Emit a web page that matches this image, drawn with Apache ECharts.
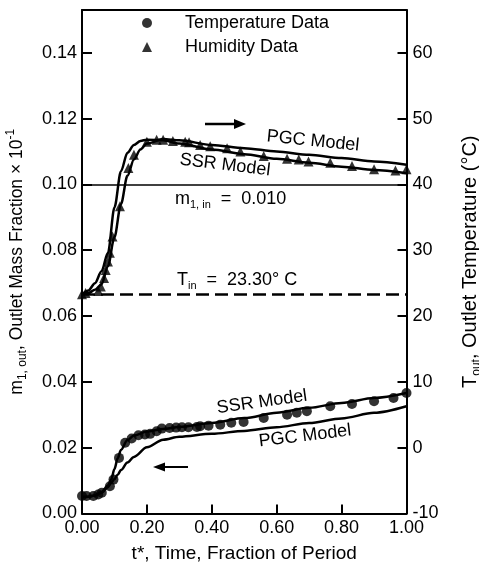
<!DOCTYPE html>
<html><head><meta charset="utf-8">
<script src="https://cdn.jsdelivr.net/npm/echarts/dist/echarts.min.js"></script>
<style>html,body{margin:0;padding:0;background:#fff}#c{width:479px;height:567px}</style>
</head><body><div id="c"></div>
<script>
// ---- data ----
const xTicks = [0, 0.2, 0.4, 0.6, 0.8, 1.0];
const inletHumidityLine = 0.10;   // m1,in (left axis units)
const inletTemperature = 23.3;    // T_in  (right axis, °C)

// upper model curves (right axis, °C)
const upperT = [0, 0.02, 0.04, 0.06, 0.08, 0.10, 0.12, 0.14, 0.16, 0.18, 0.20, 0.25, 0.30, 0.40, 0.50, 0.60, 0.70, 0.80, 0.90, 1.00];
const ssrUpper = [23.3, 23.9, 25.0, 26.8, 29.6, 36.5, 42.0, 44.8, 46.0, 46.6, 46.8, 46.7, 46.2, 45.3, 44.6, 43.9, 43.3, 42.7, 42.2, 41.7];
const pgcUpper = [23.3, 23.5, 24.0, 24.8, 27.6, 32.0, 37.0, 41.3, 43.8, 45.3, 46.2, 46.9, 46.7, 46.0, 45.5, 45.0, 44.5, 44.0, 43.5, 43.0];

// lower model curves (left axis, mass fraction x 10^-1)
const lowerT = [0, 0.02, 0.04, 0.06, 0.08, 0.09, 0.10, 0.11, 0.12, 0.14, 0.16, 0.20, 0.25, 0.30, 0.40, 0.50, 0.60, 0.70, 0.80, 0.90, 1.00];
const ssrLower = [0.0050, 0.0051, 0.0055, 0.0065, 0.0085, 0.0103, 0.0135, 0.0168, 0.0193, 0.0223, 0.0237, 0.0249, 0.0257, 0.0263, 0.0275, 0.0290, 0.0306, 0.0321, 0.0336, 0.0351, 0.0366];
const pgcLower = [0.0050, 0.0051, 0.0055, 0.0063, 0.0080, 0.0093, 0.0105, 0.0118, 0.0132, 0.0155, 0.0172, 0.0201, 0.0224, 0.0233, 0.0242, 0.0251, 0.0262, 0.0275, 0.0289, 0.0306, 0.0326];

// triangles (upper curve data)
const humidityT = [0.000, 0.011, 0.050, 0.058, 0.068, 0.073, 0.080, 0.086, 0.094, 0.117, 0.143, 0.160, 0.200, 0.230, 0.250, 0.280, 0.318, 0.330, 0.364, 0.395, 0.447, 0.488, 0.560, 0.632, 0.668, 0.698, 0.765, 0.832, 0.900, 0.966, 1.000];
const humidityV = [23.3, 23.5, 23.8, 24.5, 25.8, 27.0, 28.3, 29.6, 32.1, 36.7, 42.5, 44.5, 46.5, 46.8, 46.8, 46.6, 46.5, 46.4, 46.0, 45.8, 45.5, 45.0, 44.3, 43.9, 43.8, 43.5, 43.3, 42.8, 42.3, 42.1, 42.3];

// circles (lower curve data)
const temperatureT = [0.000, 0.014, 0.035, 0.050, 0.061, 0.086, 0.097, 0.114, 0.133, 0.153, 0.174, 0.194, 0.210, 0.230, 0.246, 0.270, 0.290, 0.308, 0.328, 0.354, 0.364, 0.390, 0.426, 0.460, 0.498, 0.560, 0.632, 0.662, 0.693, 0.765, 0.832, 0.900, 0.960, 1.000];
const temperatureV = [0.0053, 0.0053, 0.0053, 0.0058, 0.0063, 0.0083, 0.0103, 0.0169, 0.0215, 0.0228, 0.0238, 0.0240, 0.0242, 0.0250, 0.0258, 0.0260, 0.0261, 0.0262, 0.0262, 0.0263, 0.0265, 0.0267, 0.0270, 0.0276, 0.0278, 0.0290, 0.0300, 0.0306, 0.0311, 0.0326, 0.0333, 0.0341, 0.0351, 0.0366];

const leftMin = 0, leftMax = 0.153, leftInterval = 0.02;
const rightMin = -10, rightMax = 66.5, rightInterval = 10;

// ---- chart ----
const zip = (a, b) => a.map((v, i) => [v, b[i]]);
const FONT = 'Liberation Sans';
const K = '#000';
const chart = echarts.init(document.getElementById('c'), null, {renderer: 'canvas'});

const lineSeries = (name, x, y, axis, extra) => Object.assign({
  name, type: 'line', yAxisIndex: axis, data: zip(x, y), symbol: 'none',
  smooth: 0.3, smoothMonotone: 'x',
  lineStyle: {color: K, width: 2.5}, itemStyle: {color: K}, z: 3, silent: true
}, extra || {});

const sub = {fontSize: 12, fontFamily: FONT, verticalAlign: 'bottom', lineHeight: 24, fill: K, color: K};
const sup = {fontSize: 12, fontFamily: FONT, verticalAlign: 'top', lineHeight: 24, fill: K, color: K};

chart.setOption({
  animation: false,
  backgroundColor: '#fff',
  textStyle: {fontFamily: FONT, color: K},
  grid: {left: 82, right: 72.5, top: 10, bottom: 53.5, containLabel: false, outerBoundsMode: 'none'},
  legend: {
    data: ['Temperature Data', 'Humidity Data'],
    orient: 'vertical', left: 142, top: 13, padding: 0,
    itemWidth: 10, itemHeight: 10, itemGap: 4,
    textStyle: {fontFamily: FONT, fontSize: 18, color: K, lineHeight: 20, padding: [0, 0, 0, 28]},
    selectedMode: false
  },
  xAxis: [{
    type: 'value', min: 0, max: 1, interval: 0.2, position: 'bottom',
    axisLine: {show: true, onZero: false, lineStyle: {color: K, width: 2}},
    axisTick: {show: true, inside: true, length: 9, lineStyle: {color: K, width: 2}},
    axisLabel: {color: K, fontSize: 18, fontFamily: FONT, margin: 6, formatter: v => v.toFixed(2)},
    splitLine: {show: false},
    name: 't*, Time, Fraction of Period', nameLocation: 'middle', nameGap: 31, nameMoveOverlap: false,
    nameTextStyle: {fontSize: 19, fontFamily: FONT, color: K}
  }, {
    type: 'value', min: 0, max: 1, position: 'top',
    axisLine: {show: true, onZero: false, lineStyle: {color: K, width: 2}},
    axisTick: {show: false}, axisLabel: {show: false}, splitLine: {show: false}
  }],
  yAxis: [{
    type: 'value', min: leftMin, max: leftMax, interval: leftInterval, position: 'left',
    axisLine: {show: true, onZero: false, lineStyle: {color: K, width: 2}},
    axisTick: {show: true, inside: true, length: 10, lineStyle: {color: K, width: 2}},
    axisLabel: {color: K, fontSize: 18, fontFamily: FONT, margin: 5, showMaxLabel: false, formatter: v => v.toFixed(2)},
    splitLine: {show: false},
    name: 'm{s|1, out}, Outlet Mass Fraction × 10{p|-1}', nameLocation: 'middle', nameGap: 53, nameMoveOverlap: false,
    nameTextStyle: {fontSize: 17.5, fontFamily: FONT, color: K, lineHeight: 24, rich: {s: sub, p: sup}}
  }, {
    type: 'value', min: rightMin, max: rightMax, interval: rightInterval, position: 'right',
    axisLine: {show: true, onZero: false, lineStyle: {color: K, width: 2}},
    axisTick: {show: true, inside: true, length: 9, lineStyle: {color: K, width: 2}},
    axisLabel: {color: K, fontSize: 18, fontFamily: FONT, margin: 6, showMaxLabel: false},
    splitLine: {show: false},
    name: 'T{s|out}, Outlet Temperature (°C)', nameLocation: 'middle', nameGap: 52, nameMoveOverlap: false,
    nameTextStyle: {fontSize: 20, fontFamily: FONT, color: K, lineHeight: 24, rich: {s: sub}}
  }],
  series: [
    lineSeries('SSR Model (upper)', upperT, ssrUpper, 1, {
      markLine: {silent: true, symbol: 'none', label: {show: false},
        lineStyle: {color: K, width: 2.5, type: [13, 6]}, data: [{yAxis: inletTemperature}]}
    }),
    lineSeries('PGC Model (upper)', upperT, pgcUpper, 1),
    lineSeries('SSR Model (lower)', lowerT, ssrLower, 0, {
      markLine: {silent: true, symbol: 'none', label: {show: false},
        lineStyle: {color: K, width: 1.5, type: 'solid'}, data: [{yAxis: inletHumidityLine}]}
    }),
    lineSeries('PGC Model (lower)', lowerT, pgcLower, 0),
    {name: 'Temperature Data', type: 'scatter', yAxisIndex: 0, data: zip(temperatureT, temperatureV),
      symbol: 'circle', symbolSize: 10, itemStyle: {color: K}, z: 4, silent: true},
    {name: 'Humidity Data', type: 'scatter', yAxisIndex: 1, data: zip(humidityT, humidityV),
      symbol: 'triangle', symbolSize: 10, symbolKeepAspect: true, itemStyle: {color: K}, z: 4, silent: true}
  ],
  graphic: [
    {type: 'text', x: 313, y: 141, rotation: -0.10, silent: true,
      style: {text: 'PGC Model', fontSize: 18, fontFamily: FONT, fill: K, align: 'center', verticalAlign: 'middle'}},
    {type: 'text', x: 225, y: 165, rotation: -0.12, silent: true,
      style: {text: 'SSR Model', fontSize: 18, fontFamily: FONT, fill: K, align: 'center', verticalAlign: 'middle'}},
    {type: 'text', x: 262, y: 402, rotation: 0.14, silent: true,
      style: {text: 'SSR Model', fontSize: 18, fontFamily: FONT, fill: K, align: 'center', verticalAlign: 'middle'}},
    {type: 'text', x: 305, y: 436, rotation: 0.12, silent: true,
      style: {text: 'PGC Model', fontSize: 18, fontFamily: FONT, fill: K, align: 'center', verticalAlign: 'middle'}},
    {type: 'text', x: 175, y: 199, silent: true,
      style: {text: 'm{s|1, in}  =  0.010', fontSize: 18, fontFamily: FONT, fill: K, align: 'left', verticalAlign: 'middle', lineHeight: 22,
        rich: {s: {fontSize: 11, fontFamily: FONT, fill: K, verticalAlign: 'bottom', lineHeight: 22}}}},
    {type: 'text', x: 177, y: 280, silent: true,
      style: {text: 'T{s|in}  =  23.30° C', fontSize: 18, fontFamily: FONT, fill: K, align: 'left', verticalAlign: 'middle', lineHeight: 22,
        rich: {s: {fontSize: 11, fontFamily: FONT, fill: K, verticalAlign: 'bottom', lineHeight: 22}}}},
    // arrows
    {type: 'line', silent: true, shape: {x1: 205, y1: 124, x2: 237, y2: 124}, style: {stroke: K, lineWidth: 2.5}},
    {type: 'polygon', silent: true, shape: {points: [[234, 119], [246, 124], [234, 129]]}, style: {fill: K}},
    {type: 'line', silent: true, shape: {x1: 162, y1: 467, x2: 188, y2: 467}, style: {stroke: K, lineWidth: 2}},
    {type: 'polygon', silent: true, shape: {points: [[165, 462.5], [153, 467], [165, 471.5]]}, style: {fill: K}}
  ]
});
</script></body></html>
